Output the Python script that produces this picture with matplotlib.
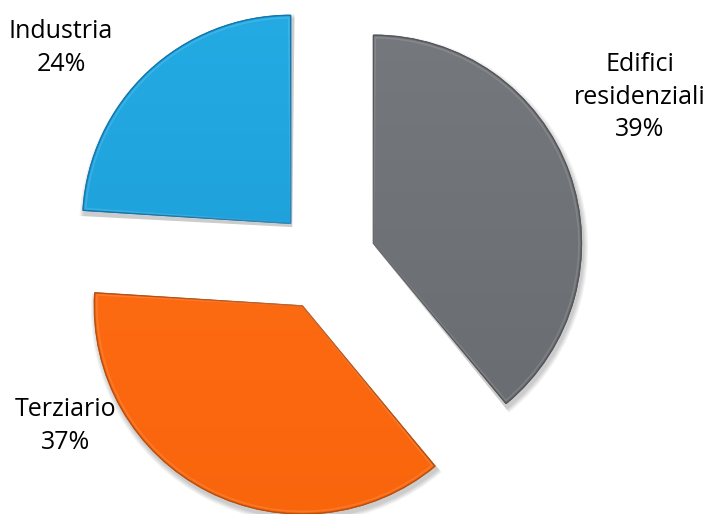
import numpy as np
import matplotlib
matplotlib.use("Agg")
import matplotlib.pyplot as plt
from matplotlib.patches import Wedge
from matplotlib.colors import LinearSegmentedColormap

# Energy consumption by sector (%)
categories = ["Edifici\nresidenziali", "Terziario", "Industria"]
shares = [39, 37, 24]

face_top = ["#75787c", "#ff6e18", "#24abe4"]
face_bottom = ["#686b6f", "#f9650b", "#1b9ad5"]
edge_colors = ["#55575b", "#b9500f", "#1277ad"]

W, H = 707, 514
fig = plt.figure(figsize=(W / 100, H / 100), dpi=100)
ax = fig.add_axes([0, 0, 1, 1])

# pie centre and radius in pixel terms
cx, cy, rpx = 325.5, 260.5, 208.0
xlim = (-cx / rpx, (W - cx) / rpx)
ylim = (-(H - cy) / rpx, cy / rpx)
ax.set_aspect("equal")
ax.axis("off")

explode = [0.245] * len(shares)
wedges, _ = ax.pie(shares, explode=explode, startangle=90, counterclock=False,
                   radius=1.0, colors=face_top,
                   wedgeprops=dict(linewidth=0.8, zorder=3))

for i, w in enumerate(wedges):
    c = w.center
    # soft drop shadow
    for k, a in enumerate([0.05, 0.05, 0.05, 0.06]):
        grow = 0.006 * (4 - k)
        sh = Wedge((c[0] + 0.008, c[1] - 0.018), w.r + grow, w.theta1 - 0.6, w.theta2 + 0.6,
                   facecolor="black", edgecolor="none", alpha=a, zorder=1)
        ax.add_patch(sh)
    # vertical gradient fill clipped to the wedge
    cmap = LinearSegmentedColormap.from_list("g%d" % i, [face_bottom[i], face_top[i]])
    grad = np.linspace(0, 1, 256).reshape(-1, 1)
    x0, x1 = c[0] - 1.05, c[0] + 1.05
    y0, y1 = c[1] - 1.05, c[1] + 1.05
    im = ax.imshow(grad, cmap=cmap, extent=(x0, x1, y0, y1), origin="lower",
                   aspect="auto", zorder=4, interpolation="bilinear")
    im.set_clip_path(w)
    w.set_edgecolor(edge_colors[i])
    # edge outline on top of gradient
    ol = Wedge(c, w.r, w.theta1, w.theta2, facecolor="none",
               edgecolor=edge_colors[i], linewidth=1.0, zorder=5)
    ax.add_patch(ol)
    # slight inner bevel highlight
    bev = Wedge(c, w.r - 0.012, w.theta1 + 0.5, w.theta2 - 0.5,
                facecolor="none", edgecolor="white", linewidth=1.2, alpha=0.12, zorder=5)
    ax.add_patch(bev)

ax.set_xlim(*xlim)
ax.set_ylim(*ylim)

# data labels
label_pos = [((640 - cx) / rpx, (cy - 97) / rpx),
             ((66 - cx) / rpx, (cy - 426) / rpx),
             ((61 - cx) / rpx, (cy - 48) / rpx)]
for name, val, (lx, ly) in zip(categories, shares, label_pos):
    ax.text(lx, ly, f"{name}\n{val}%", ha="center", va="center",
            fontsize=18, family="Open Sans", color="#000000",
            linespacing=1.42, zorder=6)

fig.savefig("out.png", dpi=100)
